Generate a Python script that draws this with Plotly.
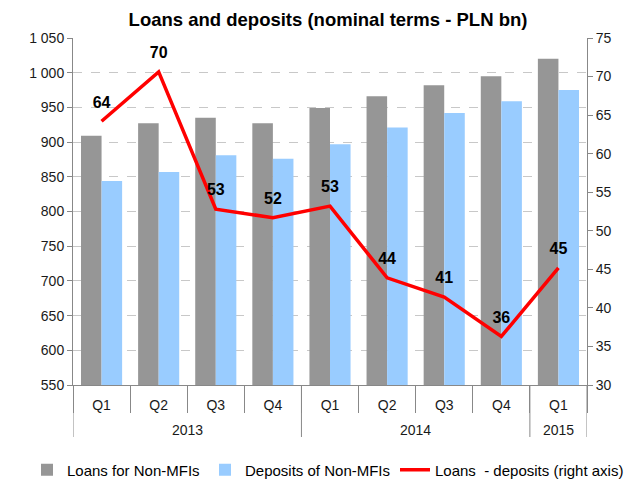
import plotly.graph_objects as go

years = ["2013", "2014", "2015"]
year_spans = [4, 4, 1]
quarters = ["Q1", "Q2", "Q3", "Q4", "Q1", "Q2", "Q3", "Q4", "Q1"]
loans = [909, 927, 935, 927, 949, 966, 982, 995, 1020]
deposits = [844, 857, 881, 876, 897, 921, 942, 959, 975]
gap = [64.2, 70.6, 52.8, 51.7, 53.2, 43.9, 41.4, 36.3, 45.2]
gap_labels = ["64", "70", "53", "52", "53", "44", "41", "36", "45"]

FONT = "Liberation Sans, Arial, sans-serif"
pos = list(range(len(quarters)))

# the page body has an 8px margin, so the figure is drawn 8px smaller
W, H = 628, 473
ML, MR, MT, MB = 65, 49, 30, 96
plot_h = H - MT - MB

fig = go.Figure()
fig.add_trace(go.Bar(x=pos, y=loans, name="Loans for Non-MFIs", legend="legend",
                     marker=dict(color="#969696", line=dict(width=0))))
fig.add_trace(go.Bar(x=pos, y=deposits, name="Deposits of Non-MFIs", legend="legend2",
                     marker=dict(color="#99ccff", line=dict(width=0))))
fig.add_trace(go.Scatter(x=pos, y=gap, name="Loans  - deposits (right axis)", yaxis="y2",
                         legend="legend3",
                         mode="lines+markers+text", text=["<b>%s</b>" % t for t in gap_labels],
                         textposition="top center",
                         textfont=dict(family=FONT, size=16, color="#000000"),
                         marker=dict(size=14, color="rgba(0,0,0,0)"),
                         line=dict(color="#ff0000", width=3.5)))

# year group dividers and labels
boundaries = [-0.5]
for s in year_spans:
    boundaries.append(boundaries[-1] + s)
shapes = []
annotations = []
for b in boundaries:
    shapes.append(dict(type="line", xref="x", yref="paper", x0=b, x1=b,
                       y0=0, y1=-52 / plot_h, line=dict(color="#888888", width=1)))
for i, yr in enumerate(years):
    annotations.append(dict(x=(boundaries[i] + boundaries[i + 1]) / 2, y=-45 / plot_h,
                            xref="x", yref="paper", text=yr, showarrow=False,
                            yanchor="middle", font=dict(size=14, color="#1a1a1a")))

leg_common = dict(orientation="h", xref="container", yref="container",
                  xanchor="left", y=1 - 462 / H, yanchor="middle",
                  font=dict(size=15, color="#000000"), itemwidth=30,
                  bgcolor="rgba(0,0,0,0)")

fig.update_layout(
    width=W, height=H,
    margin=dict(l=ML, r=MR, t=MT, b=MB, autoexpand=False),
    paper_bgcolor="white", plot_bgcolor="white",
    font=dict(family=FONT, size=14, color="#1a1a1a"),
    separators=". ",
    title=dict(text="<b>Loans and deposits (nominal terms - PLN bn)</b>",
               x=320 / W, xanchor="center", y=1 - 12 / H, yanchor="middle",
               font=dict(size=18.5, color="#000000")),
    barmode="group", bargap=0.28, bargroupgap=0,
    showlegend=True,
    legend=dict(leg_common, x=19 / W),
    legend2=dict(leg_common, x=197 / W),
    legend3=dict(leg_common, x=387 / W),
    shapes=shapes, annotations=annotations,
    xaxis=dict(range=[-0.5, len(quarters) - 0.5], tickvals=pos, ticktext=quarters,
               ticks="", showline=True, linecolor="#888888", showgrid=False,
               zeroline=False, ticklabelstandoff=7,
               tickfont=dict(size=14, color="#1a1a1a"),
               minor=dict(tickvals=[p - 0.5 for p in pos] + [pos[-1] + 0.5],
                          ticks="outside", ticklen=27, tickcolor="#888888", showgrid=False)),
    yaxis=dict(range=[550, 1050], tickvals=list(range(550, 1051, 50)), tickformat=",d",
               showline=True, linecolor="#888888", ticks="outside", ticklen=5,
               tickcolor="#888888", showgrid=True, gridcolor="#c8c8c8", griddash="dash",
               zeroline=False),
    yaxis2=dict(range=[30, 75], tickvals=list(range(30, 76, 5)), overlaying="y",
                side="right", showline=True, linecolor="#888888", ticks="outside",
                ticklen=5, tickcolor="#888888", showgrid=False, zeroline=False),
)

fig.write_html("out.html")
